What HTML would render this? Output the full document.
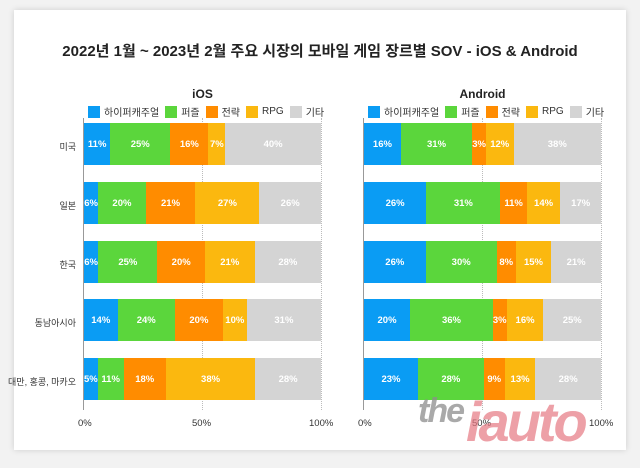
<!DOCTYPE html>
<html><head><meta charset="utf-8"><style>
body{margin:0;width:640px;height:468px;background:#f2f2f2;font-family:"Liberation Sans","Noto Sans CJK KR",sans-serif;position:relative;overflow:hidden}
.card{position:absolute;left:14px;top:10px;width:612px;height:440px;background:#fff;box-shadow:0 0 6px rgba(0,0,0,.15)}
.title{position:absolute;left:0;width:640px;top:40px;text-align:center;font-weight:bold;font-size:15px;color:#222}
.sub{position:absolute;font-weight:bold;font-size:12px;color:#222;text-align:center;width:237px}
.leg{position:absolute;font-size:10px;color:#333;display:flex;align-items:center;white-space:nowrap}
.leg i{display:inline-block;width:12px;height:12px;margin:0 4px 0 6px}
.bar{position:absolute;height:42px;display:flex;width:237px}
.bar div{height:100%;color:#fff;font-size:9.5px;font-weight:bold;display:flex;align-items:center;justify-content:center;overflow:visible;white-space:nowrap}
.cat{position:absolute;font-size:9px;color:#333;text-align:right;width:70px;left:6px}
.ax{position:absolute;width:1px;background:#999}
.grid{position:absolute;border-left:1px dotted #bbb}
.tk{position:absolute;font-size:9.5px;color:#333;top:418px}
.b{background:#0a9cf4}.g{background:#5bd63c}.o{background:#ff8c00}.y{background:#fbb80f}.r{background:#d4d4d4}
</style></head><body>
<div class="card"></div>
<div class="title">2022년 1월 ~ 2023년 2월 주요 시장의 모바일 게임 장르별 SOV - iOS &amp; Android</div>
<div class="sub" style="left:84px;top:87px">iOS</div>
<div class="sub" style="left:364px;top:87px">Android</div>
<div class="leg" style="left:82px;top:104px"><i class="b"></i>하이퍼캐주얼<i class="g"></i>퍼즐<i class="o"></i>전략<i class="y"></i>RPG<i class="r"></i>기타</div>
<div class="leg" style="left:362px;top:104px"><i class="b"></i>하이퍼캐주얼<i class="g"></i>퍼즐<i class="o"></i>전략<i class="y"></i>RPG<i class="r"></i>기타</div>
<div class="grid" style="left:202px;top:118px;height:292px"></div>
<div class="grid" style="left:321px;top:118px;height:292px"></div>
<div class="grid" style="left:482px;top:118px;height:292px"></div>
<div class="grid" style="left:601px;top:118px;height:292px"></div>
<div class="ax" style="left:83px;top:118px;height:292px"></div>
<div class="ax" style="left:363px;top:118px;height:292px"></div>

<div class="cat" style="top:140px">미국</div>
<div class="cat" style="top:199px">일본</div>
<div class="cat" style="top:258px">한국</div>
<div class="cat" style="top:316px">동남아시아</div>
<div class="cat" style="top:375px">대만, 홍콩, 마카오</div>

<div class="bar" style="left:84px;top:123px"><div class="b" style="flex:11">11%</div><div class="g" style="flex:25">25%</div><div class="o" style="flex:16">16%</div><div class="y" style="flex:7">7%</div><div class="r" style="flex:40">40%</div></div>
<div class="bar" style="left:84px;top:182px"><div class="b" style="flex:6">6%</div><div class="g" style="flex:20">20%</div><div class="o" style="flex:21">21%</div><div class="y" style="flex:27">27%</div><div class="r" style="flex:26">26%</div></div>
<div class="bar" style="left:84px;top:241px"><div class="b" style="flex:6">6%</div><div class="g" style="flex:25">25%</div><div class="o" style="flex:20">20%</div><div class="y" style="flex:21">21%</div><div class="r" style="flex:28">28%</div></div>
<div class="bar" style="left:84px;top:299px"><div class="b" style="flex:14">14%</div><div class="g" style="flex:24">24%</div><div class="o" style="flex:20">20%</div><div class="y" style="flex:10">10%</div><div class="r" style="flex:31">31%</div></div>
<div class="bar" style="left:84px;top:358px"><div class="b" style="flex:5">5%</div><div class="g" style="flex:11">11%</div><div class="o" style="flex:18">18%</div><div class="y" style="flex:38">38%</div><div class="r" style="flex:28">28%</div></div>

<div class="bar" style="left:364px;top:123px"><div class="b" style="flex:16">16%</div><div class="g" style="flex:31">31%</div><div class="o" style="flex:3">3%</div><div class="y" style="flex:12">12%</div><div class="r" style="flex:38">38%</div></div>
<div class="bar" style="left:364px;top:182px"><div class="b" style="flex:26">26%</div><div class="g" style="flex:31">31%</div><div class="o" style="flex:11">11%</div><div class="y" style="flex:14">14%</div><div class="r" style="flex:17">17%</div></div>
<div class="bar" style="left:364px;top:241px"><div class="b" style="flex:26">26%</div><div class="g" style="flex:30">30%</div><div class="o" style="flex:8">8%</div><div class="y" style="flex:15">15%</div><div class="r" style="flex:21">21%</div></div>
<div class="bar" style="left:364px;top:299px"><div class="b" style="flex:20">20%</div><div class="g" style="flex:36">36%</div><div class="o" style="flex:3">3%</div><div class="y" style="flex:16">16%</div><div class="r" style="flex:25">25%</div></div>
<div class="bar" style="left:364px;top:358px"><div class="b" style="flex:23">23%</div><div class="g" style="flex:28">28%</div><div class="o" style="flex:9">9%</div><div class="y" style="flex:13">13%</div><div class="r" style="flex:28">28%</div></div>

<div class="tk" style="left:78px">0%</div><div class="tk" style="left:192px">50%</div><div class="tk" style="left:309px">100%</div>
<div class="tk" style="left:358px">0%</div><div class="tk" style="left:472px">50%</div><div class="tk" style="left:589px">100%</div>

<div style="position:absolute;left:418px;top:392px;font:bold italic 34px 'Liberation Sans',sans-serif;color:rgba(140,140,140,.75);letter-spacing:-2px">the</div>
<div style="position:absolute;left:466px;top:392px;font:bold italic 56px 'Liberation Sans',sans-serif;color:rgba(230,120,130,.7);letter-spacing:-3px;line-height:60px">iauto</div>
</body></html>
